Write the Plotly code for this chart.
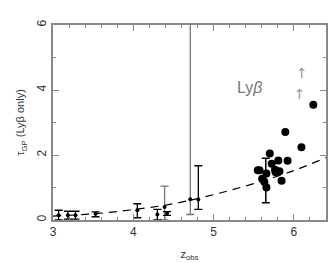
import plotly.graph_objects as go

# small points with error bars (black)
sm_x = [3.07, 3.185, 3.28, 3.53, 4.05, 4.30, 4.42, 4.81]
sm_y = [0.15, 0.15, 0.15, 0.19, 0.30, 0.17, 0.21, 0.63]
sm_up = [0.15, 0.12, 0.12, 0.06, 0.20, 0.16, 0.05, 1.04]
sm_dn = [0.15, 0.12, 0.12, 0.09, 0.23, 0.17, 0.07, 0.30]

# gray error-bar points
gr_x = [4.39, 4.71]
gr_y = [0.40, 0.64]
gr_up = [0.64, 6.0]
gr_dn = [0.40, 0.47]

# big points (Ly-beta)
big_x = [6.242, 5.893, 6.094, 5.70, 5.806, 5.921, 5.724, 5.551, 5.572, 5.658,
         5.765, 5.773, 5.82, 5.605, 5.633, 5.658, 5.847]
big_y = [3.55, 2.71, 2.24, 2.05, 1.83, 1.82, 1.73, 1.53, 1.53, 1.43,
         1.55, 1.47, 1.50, 1.27, 1.17, 1.00, 1.21]

# error bar on big point
be_x = [5.65]
be_y = [1.20]
be_up = [0.70]
be_dn = [0.67]

# dashed model curve
cv_x = [3.0, 3.5, 4.0, 4.5, 5.0, 5.5, 6.0, 6.4]
cv_y = [0.12, 0.19, 0.32, 0.50, 0.78, 1.12, 1.52, 1.92]

# lower-limit arrows
ar_x = [6.10, 6.07]
ar_y = [4.47, 3.84]

lab_x = [5.45]
lab_y = [4.02]

fig = go.Figure()
fig.add_trace(go.Scatter(x=cv_x, y=cv_y, mode="lines", line=dict(color="black", width=1.2, dash="8px,6px", shape="spline"), hoverinfo="skip"))
fig.add_trace(go.Scatter(x=gr_x, y=gr_y, mode="markers", marker=dict(color="black", size=4),
                         error_y=dict(type="data", symmetric=False, array=gr_up, arrayminus=gr_dn, color="#777777", thickness=1.3, width=4)))
fig.add_trace(go.Scatter(x=sm_x, y=sm_y, mode="markers", marker=dict(color="black", size=4),
                         error_y=dict(type="data", symmetric=False, array=sm_up, arrayminus=sm_dn, color="black", thickness=1.3, width=4)))
fig.add_trace(go.Scatter(x=be_x, y=be_y, mode="markers", marker=dict(color="black", size=1, opacity=0),
                         error_y=dict(type="data", symmetric=False, array=be_up, arrayminus=be_dn, color="black", thickness=1.5, width=4)))
fig.add_trace(go.Scatter(x=big_x, y=big_y, mode="markers", marker=dict(color="black", size=8)))
fig.add_trace(go.Scatter(x=ar_x, y=ar_y, mode="text", text=["↑"] * len(ar_x),
                         textfont=dict(color="#999999", size=14, family="DejaVu Sans")))
fig.add_trace(go.Scatter(x=lab_x, y=lab_y, mode="text", text=["Ly<i>β</i>"],
                         textfont=dict(color="#777777", size=16, family="Liberation Sans")))

axcommon = dict(showline=True, linecolor="#888888", linewidth=2, mirror="ticks", ticks="inside",
                tickcolor="#888888", showgrid=False, zeroline=False,
                tickfont=dict(family="Liberation Sans", size=12, color="#333333"))
fig.update_xaxes(range=[3, 6.4], tickvals=[3, 4, 5, 6], ticklen=6,
                 minor=dict(dtick=0.2, tick0=3, ticklen=3, ticks="inside", tickcolor="#888888"),
                 title=dict(text="z<sub>obs</sub>", font=dict(family="Liberation Sans", size=11, color="#333333"), standoff=12),
                 **axcommon)
fig.update_yaxes(range=[0, 6], tickvals=[0, 2, 4, 6], ticklen=6, tickangle=-90,
                 minor=dict(dtick=1, ticklen=3, ticks="inside", tickcolor="#888888"),
                 title=dict(text="τ<sub>GP</sub> (Lyβ only)", font=dict(family="Liberation Sans", size=11, color="#333333"), standoff=8),
                 **axcommon)
fig.update_layout(width=336, height=263, margin=dict(l=43, r=18, t=16, b=45),
                  showlegend=False, plot_bgcolor="white", paper_bgcolor="white")
fig.write_html("out.html")
